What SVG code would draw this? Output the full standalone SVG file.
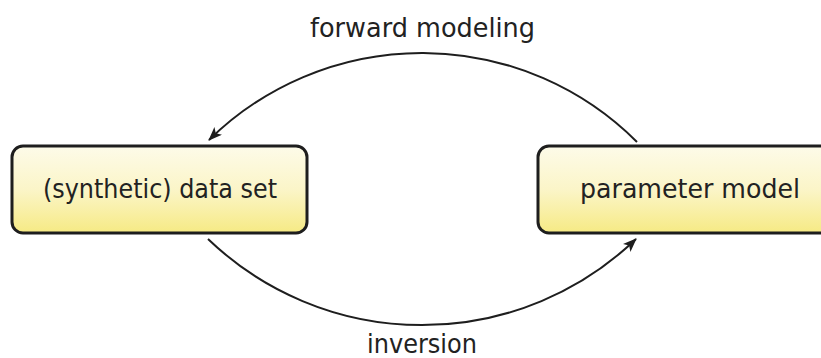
<svg xmlns="http://www.w3.org/2000/svg" width="821" height="358" viewBox="0 0 821 358">
<style>
.box{stroke:#1e1e1e;stroke-width:3;fill:url(#g)}
.lbl{font-family:"DejaVu Sans","Liberation Sans",Arial,sans-serif;font-size:27px;fill:#222}
.edge{fill:none;stroke:#1e1e1e;stroke-width:2}
</style>
<defs>
<linearGradient id="g" x1="0" y1="0" x2="0" y2="1">
<stop offset="0" stop-color="#fdfbe9"/>
<stop offset="0.5" stop-color="#fbf5c8"/>
<stop offset="1" stop-color="#f6ea84"/>
</linearGradient>
<marker id="ah" viewBox="0 0 14 11" refX="13" refY="5.5" markerWidth="14" markerHeight="11" markerUnits="userSpaceOnUse" orient="auto">
<path d="M0,0 L14,5.5 L0,11 L3.5,5.5 Z" fill="#1e1e1e"/>
</marker>
</defs>
<g id="connectors">
<path class="edge" d="M637,142 A304,304 0 0 0 209,140" marker-end="url(#ah)"/>
<path class="edge" d="M208,239 A309,309 0 0 0 636,239" marker-end="url(#ah)"/>
<text class="lbl" x="422.5" y="37" text-anchor="middle" textLength="225" lengthAdjust="spacingAndGlyphs">forward modeling</text>
<text class="lbl" x="422" y="353" text-anchor="middle" textLength="110" lengthAdjust="spacingAndGlyphs">inversion</text>
</g>
<g id="data">
<rect class="box" x="12" y="146" width="295" height="87" rx="11"/>
<text class="lbl" x="160" y="198" text-anchor="middle" textLength="234" lengthAdjust="spacingAndGlyphs">(synthetic) data set</text>
</g>
<g id="model">
<rect class="box" x="538" y="146" width="300" height="87" rx="11"/>
<text class="lbl" x="690" y="198" text-anchor="middle" textLength="220" lengthAdjust="spacingAndGlyphs">parameter model</text>
</g>
</svg>
